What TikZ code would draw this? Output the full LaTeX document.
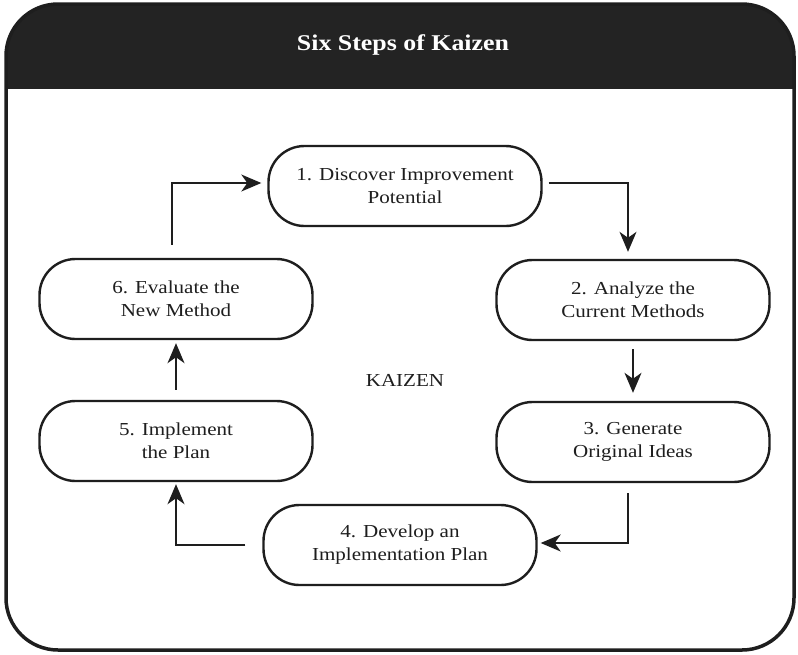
\documentclass[tikz,border=0pt]{standalone}
\usepackage{fontspec}
\setmainfont{Liberation Serif}[FakeStretch=1.15]
\usetikzlibrary{arrows.meta}
\definecolor{ink}{HTML}{1E1E1E}
\definecolor{band}{HTML}{232323}
\tikzset{
  stepbox/.style={draw=ink, line width=2.4pt, rounded corners=36pt, minimum width=273pt, minimum height=80pt, align=center, text=ink, font=\fontsize{18.3}{23}\selectfont, inner sep=0pt},
  arr/.style={draw=ink, line width=1.5pt, -{Stealth[length=20pt,width=17pt,inset=6pt]}},
  framebox/.style={rounded corners=52pt}
}
\begin{document}
\begin{tikzpicture}[x=1pt,y=-1pt]
\useasboundingbox (0,0) rectangle (798,654);
% frame
\fill[white, framebox] (6,4) rectangle (794,650);
\begin{scope}
  \clip (0,0) rectangle (798,88);
  \fill[band, framebox] (6,4) rectangle (794,650);
\end{scope}
\draw[ink, line width=3.5pt, framebox] (6,4) rectangle (794,650);
\node[text=white, font=\fontsize{22.5}{26}\selectfont\bfseries] (title) at (403,45) {Six Steps of Kaizen};
% nodes
\node[stepbox] (n1) at (405,186) {1. Discover Improvement\\Potential};
\node[stepbox] (n2) at (633,300) {2. Analyze the\\Current Methods};
\node[stepbox] (n3) at (633,442) {3. Generate\\Original Ideas};
\node[stepbox] (n4) at (400,545) {4. Develop an\\Implementation Plan};
\node[stepbox] (n5) at (176,441) {5. Implement\\the Plan};
\node[stepbox] (n6) at (176,299) {6. Evaluate the\\New Method};
\node[text=ink, font=\fontsize{18.3}{23}\selectfont] (k) at (405,380) {KAIZEN};
% connectors
\draw[arr, shorten <=13pt, shorten >=6pt] ([xshift=-4pt]n6.north) |- ([yshift=3pt]n1.west);
\draw[arr, shorten <=6pt, shorten >=7pt] ([yshift=3pt]n1.east) -| ([xshift=-5pt]n2.north);
\draw[arr, shorten <=8pt, shorten >=8pt] (n2.south) -- (n3.north);
\draw[arr, shorten <=10pt, shorten >=3pt] ([xshift=-5pt]n3.south) |- ([yshift=2pt]n4.east);
\draw[arr, shorten <=17pt, shorten >=2pt] (n4.west) -| (n5.south);
\draw[arr, shorten <=10pt, shorten >=3pt] (n5.north) -- (n6.south);
\end{tikzpicture}
\end{document}
